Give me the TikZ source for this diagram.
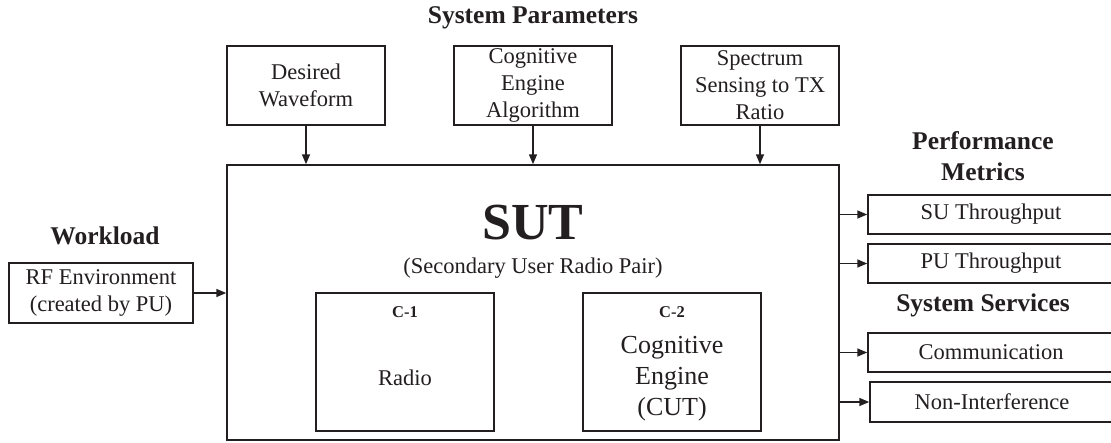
\documentclass[tikz,border=0pt]{standalone}
\usepackage{fontspec}
\setmainfont{Liberation Serif}
\usetikzlibrary{arrows.meta}
\definecolor{ink}{RGB}{35,31,32}
\tikzset{
  box/.style={draw=ink, line width=1.5pt, rectangle, inner sep=0pt, align=center, text=ink,
              font=\fontsize{22.5}{27}\selectfont},
  lbl/.style={inner sep=0pt, align=center, text=ink, font=\fontsize{22.5}{27}\selectfont},
  ttl/.style={inner sep=0pt, align=center, text=ink, font=\fontsize{25.5}{31}\selectfont\bfseries},
  arr/.style={draw=ink, line width=1.5pt, -{Triangle[length=10pt,width=8pt]}},
}
\begin{document}
\begin{tikzpicture}[x=1pt,y=-1pt]
\clip (0,0) rectangle (1111,442);
\fill[white] (0,0) rectangle (1111,442);
% titles
\node[ttl] (tsp) at (533,18) {System Parameters};
\node[ttl] (twl) at (105,236) {Workload};
\node[ttl] (tpm) at (983,156) {Performance\\Metrics};
\node[ttl] (tss) at (983,305) {System Services};
% top boxes
\node[box, minimum width=158pt, minimum height=79pt] (dw) at (306,85.5) {Desired\\Waveform};
\node[box, minimum width=158pt, minimum height=79pt] (ce) at (533,85.5) {Cognitive\\Engine\\Algorithm};
\node[box, minimum width=158pt, minimum height=79pt] (ss) at (760,85.5) {Spectrum\\Sensing to TX\\Ratio};
% main SUT box
\node[box, minimum width=612pt, minimum height=275pt] (main) at (533,302.5) {};
\node[lbl, font=\fontsize{52}{60}\selectfont\bfseries] (sut) at (533,223) {SUT};
\node[lbl] (sub) at (533,268) {(Secondary User Radio Pair)};
\node[box, minimum width=178pt, minimum height=138pt] (c1) at (405,362) {};
\node[lbl, font=\fontsize{16.5}{20}\selectfont\bfseries] (c1l) at (405,312) {C-1};
\node[lbl] (c1t) at (405,378) {Radio};
\node[box, minimum width=178pt, minimum height=138pt] (c2) at (672,362) {};
\node[lbl, font=\fontsize{16.5}{20}\selectfont\bfseries] (c2l) at (672,312) {C-2};
\node[lbl, font=\fontsize{26}{31}\selectfont] (c2t) at (672,379) {Cognitive\\Engine\\(CUT)};
% workload box
\node[box, minimum width=184pt, minimum height=60pt] (rf) at (101,293) {RF Environment\\(created by PU)};
% right boxes
\node[box, minimum width=246pt, minimum height=39pt] (su) at (991,214.5) {SU Throughput};
\node[box, minimum width=246pt, minimum height=39pt] (pu) at (991,263.5) {PU Throughput};
\node[box, minimum width=246pt, minimum height=39pt] (cm) at (991,352.5) {Communication};
\node[box, minimum width=244pt, minimum height=40pt] (ni) at (992,402) {Non-Interference};
% connectors
\draw[arr] (dw.south) -- (dw.south |- main.north);
\draw[arr] (ce.south) -- (ce.south |- main.north);
\draw[arr] (ss.south) -- (ss.south |- main.north);
\draw[arr] (rf.east) -- (rf.east -| main.west);
\draw[arr] (main.east |- su.west) -- (su.west);
\draw[arr] (main.east |- pu.west) -- (pu.west);
\draw[arr] (main.east |- cm.west) -- (cm.west);
\draw[arr] (main.east |- ni.west) -- (ni.west);
\end{tikzpicture}
\end{document}
